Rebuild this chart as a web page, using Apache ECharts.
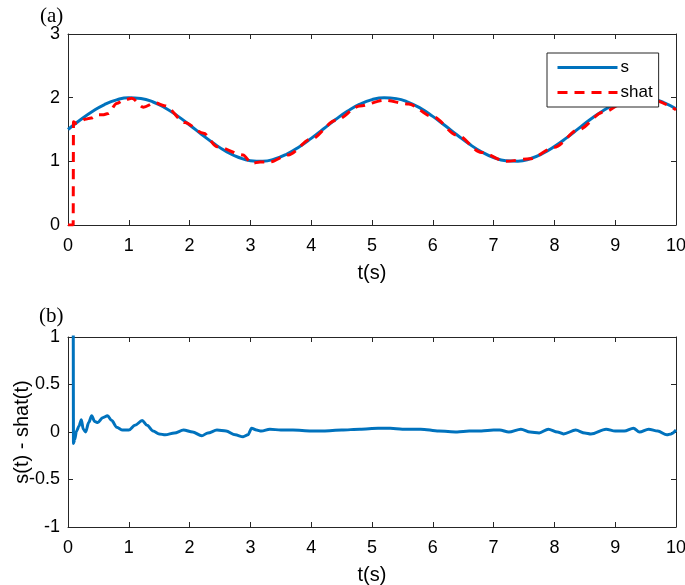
<!DOCTYPE html>
<html>
<head>
<meta charset="utf-8">
<script src="https://cdn.jsdelivr.net/npm/echarts@6/dist/echarts.min.js"></script>
<style>html,body{margin:0;padding:0;background:#fff}#c{width:685px;height:585px}</style>
</head>
<body>
<div id="c"></div>
<script>
// time grid for s(t)
var tGrid = [0,0.2,0.4,0.6,0.8,1.0,1.2,1.4,1.6,1.8,2.0,2.2,2.4,2.6,2.8,3.0,3.2,3.4,3.6,3.8,4.0,4.2,4.4,4.6,4.8,5.0,5.2,5.4,5.6,5.8,6.0,6.2,6.4,6.6,6.8,7.0,7.2,7.4,7.6,7.8,8.0,8.2,8.4,8.6,8.8,9.0,9.2,9.4,9.6,9.8,10.0];
var sValues = [1.5,1.648,1.782,1.892,1.966,1.999,1.987,1.932,1.838,1.714,1.571,1.421,1.279,1.156,1.064,1.011,1.002,1.037,1.114,1.225,1.36,1.508,1.656,1.789,1.897,1.969,1.999,1.985,1.927,1.832,1.706,1.562,1.413,1.271,1.15,1.06,1.01,1.003,1.04,1.119,1.232,1.368,1.517,1.664,1.796,1.902,1.972,2.0,1.983,1.923,1.825];
// shat(t): time / value pairs
var shatT = [0,0.085,0.09,0.13,0.2,0.28,0.38,0.48,0.57,0.66,0.8,0.94,1.05,1.24,1.43,1.6,1.92,2.23,2.45,2.88,3.02,3.16,3.32,3.62,4.0,4.4,4.8,5.2,5.6,6.0,6.4,6.8,7.2,7.6,8.0,8.4,8.8,9.2,9.6,10.0];
var shatV = [0,0,1.62,1.6,1.62,1.66,1.68,1.73,1.73,1.75,1.91,1.97,1.99,1.85,1.92,1.87,1.61,1.44,1.23,1.1,0.97,0.99,0.99,1.1,1.35,1.64,1.87,1.96,1.9,1.7,1.41,1.14,1.0,1.04,1.22,1.5,1.77,1.95,1.97,1.81];
// error s(t) - shat(t): time / value pairs
var errT = [0,0.085,0.09,0.11,0.14,0.18,0.22,0.25,0.29,0.34,0.39,0.44,0.49,0.57,0.65,0.72,0.8,0.9,1.0,1.1,1.22,1.3,1.4,1.5,1.6,1.75,1.9,2.05,2.2,2.3,2.45,2.6,2.75,2.88,2.96,3.02,3.1,3.18,3.32,3.5,3.7,4.0,4.2,4.5,4.8,5.1,5.3,5.5,5.8,6.1,6.4,6.6,6.8,7.0,7.1,7.25,7.45,7.6,7.75,7.9,8.05,8.15,8.35,8.5,8.6,8.85,9.0,9.15,9.3,9.4,9.55,9.7,9.85,9.92,10.0];
var errV = [1.5,1.5,-0.12,-0.08,0.01,0.06,0.13,0.03,0.0,0.1,0.17,0.11,0.1,0.15,0.17,0.12,0.05,0.02,0.02,0.07,0.12,0.07,0.01,-0.02,-0.03,-0.01,0.02,0.0,-0.04,-0.01,0.02,0.01,-0.03,-0.05,-0.03,0.04,0.02,0.01,0.03,0.02,0.02,0.01,0.01,0.02,0.03,0.04,0.04,0.03,0.03,0.01,0.0,0.01,0.01,0.02,0.02,0.0,0.03,0.0,-0.01,0.03,0.0,-0.02,0.02,-0.01,-0.02,0.03,0.01,0.01,0.04,0.0,0.03,0.01,-0.03,-0.02,0.02];
var xTicks = [0,1,2,3,4,5,6,7,8,9,10];
var yTicksA = [0,1,2,3];
var yTicksB = [-1,-0.5,0,0.5,1];

function zip(a,b){var r=[];for(var i=0;i<a.length;i++){r.push([a[i],b[i]]);}return r;}

var AX = '#262626';
var FONT = 'Liberation Sans, Arial, Helvetica, sans-serif';
function xAx(grid, pos, showLabel, name){
  return {type:'value', gridIndex:grid, position:pos, min:xTicks[0], max:xTicks[xTicks.length-1], interval:1,
    axisLine:{show:true, onZero:false, lineStyle:{color:AX, width:1}},
    axisTick:{show:true, inside:true, length:5, lineStyle:{color:AX}},
    splitLine:{show:false},
    axisLabel:{show:showLabel, color:'#000', fontFamily:FONT, fontSize:18, margin:12},
    name:name||'', nameLocation:'middle', nameGap:38, nameMoveOverlap:false,
    nameTextStyle:{color:'#000', fontFamily:FONT, fontSize:20}};
}
function yAx(grid, pos, showLabel, ticks, name){
  return {type:'value', gridIndex:grid, position:pos, min:ticks[0], max:ticks[ticks.length-1], interval:ticks[1]-ticks[0],
    axisLine:{show:true, onZero:false, lineStyle:{color:AX, width:1}},
    axisTick:{show:true, inside:true, length:5, lineStyle:{color:AX}},
    splitLine:{show:false},
    axisLabel:{show:showLabel, color:'#000', fontFamily:FONT, fontSize:18, margin:8},
    name:name||'', nameLocation:'middle', nameGap:36, nameMoveOverlap:false,
    nameTextStyle:{color:'#000', fontFamily:FONT, fontSize:20}};
}

var chart = echarts.init(document.getElementById('c'), null, {renderer:'canvas'});
chart.setOption({
  animation:false,
  backgroundColor:'#fff',
  grid:[
    {left:68, top:34, width:608, height:191, outerBoundsMode:'none', containLabel:false},
    {left:68, top:337, width:608, height:190, outerBoundsMode:'none', containLabel:false}
  ],
  xAxis:[xAx(0,'bottom',true,'t(s)'), xAx(0,'top',false), xAx(1,'bottom',true,'t(s)'), xAx(1,'top',false)],
  yAxis:[yAx(0,'left',true,yTicksA), yAx(0,'right',false,yTicksA), yAx(1,'left',true,yTicksB,'s(t) - shat(t)'), yAx(1,'right',false,yTicksB)],
  legend:{
    show:true, data:['s','shat'], orient:'vertical', left:547, top:53,
    padding:[6,6,6,9], itemGap:8, itemWidth:60, itemHeight:14,
    backgroundColor:'#fff', borderColor:AX, borderWidth:1, borderRadius:0,
    itemStyle:{opacity:0},
    lineStyle:{width:3},
    textStyle:{color:'#000', fontFamily:FONT, fontSize:17, padding:[0,0,0,-2]}
  },
  graphic:[
    {type:'text', left:40, top:6, style:{text:'(a)', font:'21px "Liberation Serif", "Times New Roman", serif', fill:'#000'}},
    {type:'text', left:39, top:306, style:{text:'(b)', font:'21px "Liberation Serif", "Times New Roman", serif', fill:'#000'}}
  ],
  series:[
    {name:'s', type:'line', xAxisIndex:0, yAxisIndex:0, data:zip(tGrid,sValues), smooth:true, showSymbol:false, symbol:'none',
      lineStyle:{color:'#0072BD', width:3}, itemStyle:{color:'#0072BD'}, z:2},
    {name:'shat', type:'line', xAxisIndex:0, yAxisIndex:0, data:zip(shatT,shatV), smooth:0.3, smoothMonotone:'x', showSymbol:false, symbol:'none',
      lineStyle:{color:'#FF0000', width:3, type:[10,7]}, itemStyle:{color:'#FF0000'}, z:3},
    {name:'err', type:'line', xAxisIndex:2, yAxisIndex:2, data:zip(errT,errV), smooth:0.3, smoothMonotone:'x', showSymbol:false, symbol:'none', clip:true,
      lineStyle:{color:'#0072BD', width:3}, itemStyle:{color:'#0072BD'}}
  ]
});
</script>
</body>
</html>
